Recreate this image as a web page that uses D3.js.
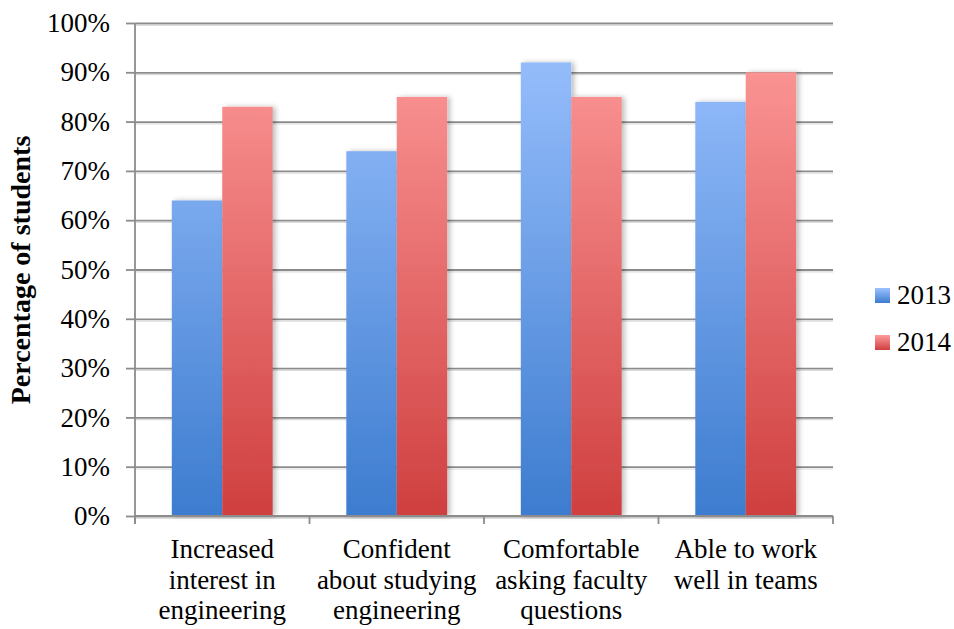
<!DOCTYPE html>
<html><head><meta charset="utf-8">
<script src="https://cdn.jsdelivr.net/npm/d3@7"></script>
<style>body{margin:0;background:#fff}svg{display:block}</style>
</head><body><svg id="c" width="954" height="629"></svg>
<script>
const categories = [
  ["Increased", "interest in", "engineering"],
  ["Confident", "about studying", "engineering"],
  ["Comfortable", "asking faculty", "questions"],
  ["Able to work", "well in teams"]
];
const seriesNames = ["2013", "2014"];
const values2013 = [64, 74, 92, 84];
const values2014 = [83, 85, 85, 90];
const yTicks = [0,10,20,30,40,50,60,70,80,90,100];
const yTitle = "Percentage of students";

const font = "Liberation Serif, serif";
const svg = d3.select("#c");
const m = {l:135, r:833, t:23, b:516};
const x = d3.scaleBand().domain(d3.range(categories.length)).range([m.l, m.r]);
const y = d3.scaleLinear().domain([0,100]).range([m.b, m.t]);
const xs = d3.scaleBand().domain(seriesNames).range([0, x.bandwidth()]).paddingOuter(0.73).paddingInner(0);

const defs = svg.append("defs");
const grads = [["g2013","#9cc2ff","#3d7ccf"],["g2014","#ff9c9c","#cf3f3f"]];
grads.forEach(([id,a,b])=>{
  const g = defs.append("linearGradient").attr("id",id).attr("gradientUnits","userSpaceOnUse")
    .attr("x1",0).attr("x2",0).attr("y1",y(100)).attr("y2",y(0));
  g.append("stop").attr("offset","0").attr("stop-color",a);
  g.append("stop").attr("offset","1").attr("stop-color",b);
});
const f = defs.append("filter").attr("id","sh").attr("x","-20%").attr("y","-10%").attr("width","150%").attr("height","120%");
f.append("feDropShadow").attr("dx",3).attr("dy",0).attr("stdDeviation",2.5).attr("flood-color","#000").attr("flood-opacity",0.25);

// gridlines
const gy = svg.append("g").attr("transform",`translate(${m.l},0)`)
  .call(d3.axisLeft(y).tickValues(yTicks).tickSize(9).tickFormat(d=>d+"%").tickPadding(16));
gy.select(".domain").remove();
gy.selectAll(".tick line").attr("stroke","#8c8c8c").attr("stroke-width",1.8);
gy.selectAll(".tick").append("line").attr("x1",0).attr("x2",m.r-m.l).attr("stroke","#8c8c8c").attr("stroke-width",1.8);
gy.selectAll(".tick").append("line").attr("x1",0).attr("x2",m.r-m.l).attr("y1",1.8).attr("y2",1.8).attr("stroke","#dcdcdc").attr("stroke-width",1.2);
gy.selectAll("text").attr("font-family",font).attr("font-size",27).attr("fill","#000");
svg.append("line").attr("x1",m.l).attr("x2",m.l).attr("y1",m.t).attr("y2",m.b+8).attr("stroke","#8c8c8c").attr("stroke-width",1.8);

// bars
const data = [values2013, values2014];
const bars = svg.append("g");
seriesNames.forEach((s,si)=>{
  bars.selectAll(null).data(data[si]).join("rect")
    .attr("x",(d,i)=>x(i)+xs(s)).attr("width",xs.bandwidth())
    .attr("y",d=>y(d)).attr("height",d=>y(0)-y(d))
    .attr("fill",`url(#g${s})`).attr("filter","url(#sh)");
});

// x axis
const gx = svg.append("g").attr("transform",`translate(0,${m.b})`);
gx.append("line").attr("x1",m.l).attr("x2",m.r).attr("stroke","#8c8c8c").attr("stroke-width",1.8);
const bounds = d3.range(categories.length+1).map(i=> i<categories.length ? x(i) : x(i-1)+x.bandwidth());
gx.selectAll(null).data(bounds).join("line").attr("x1",d=>d).attr("x2",d=>d).attr("y1",0).attr("y2",8)
  .attr("stroke","#8c8c8c").attr("stroke-width",1.8);
categories.forEach((lines,i)=>{
  const t = gx.append("text").attr("font-family",font).attr("font-size",27).attr("text-anchor","middle")
    .attr("x",x(i)+x.bandwidth()/2).attr("y",42);
  lines.forEach((l,j)=>t.append("tspan").attr("x",x(i)+x.bandwidth()/2).attr("y",42+j*30.5).text(l));
});

// y title
svg.append("text").attr("transform","translate(30,270) rotate(-90)").attr("text-anchor","middle")
  .attr("font-family",font).attr("font-size",28).attr("font-weight","bold").text(yTitle);

// legend
const lg = svg.append("g");
seriesNames.forEach((s,i)=>{
  const yy = 288 + i*47;
  const g = defs.append("linearGradient").attr("id","lg"+s).attr("x1",0).attr("x2",0).attr("y1",0).attr("y2",1);
  g.append("stop").attr("offset",0).attr("stop-color",grads[i][1]);
  g.append("stop").attr("offset",1).attr("stop-color",grads[i][2]);
  lg.append("rect").attr("x",875).attr("y",yy).attr("width",15).attr("height",15).attr("fill",`url(#lg${s})`);
  lg.append("text").attr("x",897).attr("y",yy+16).attr("font-family",font).attr("font-size",27).text(s);
});
</script></body></html>
